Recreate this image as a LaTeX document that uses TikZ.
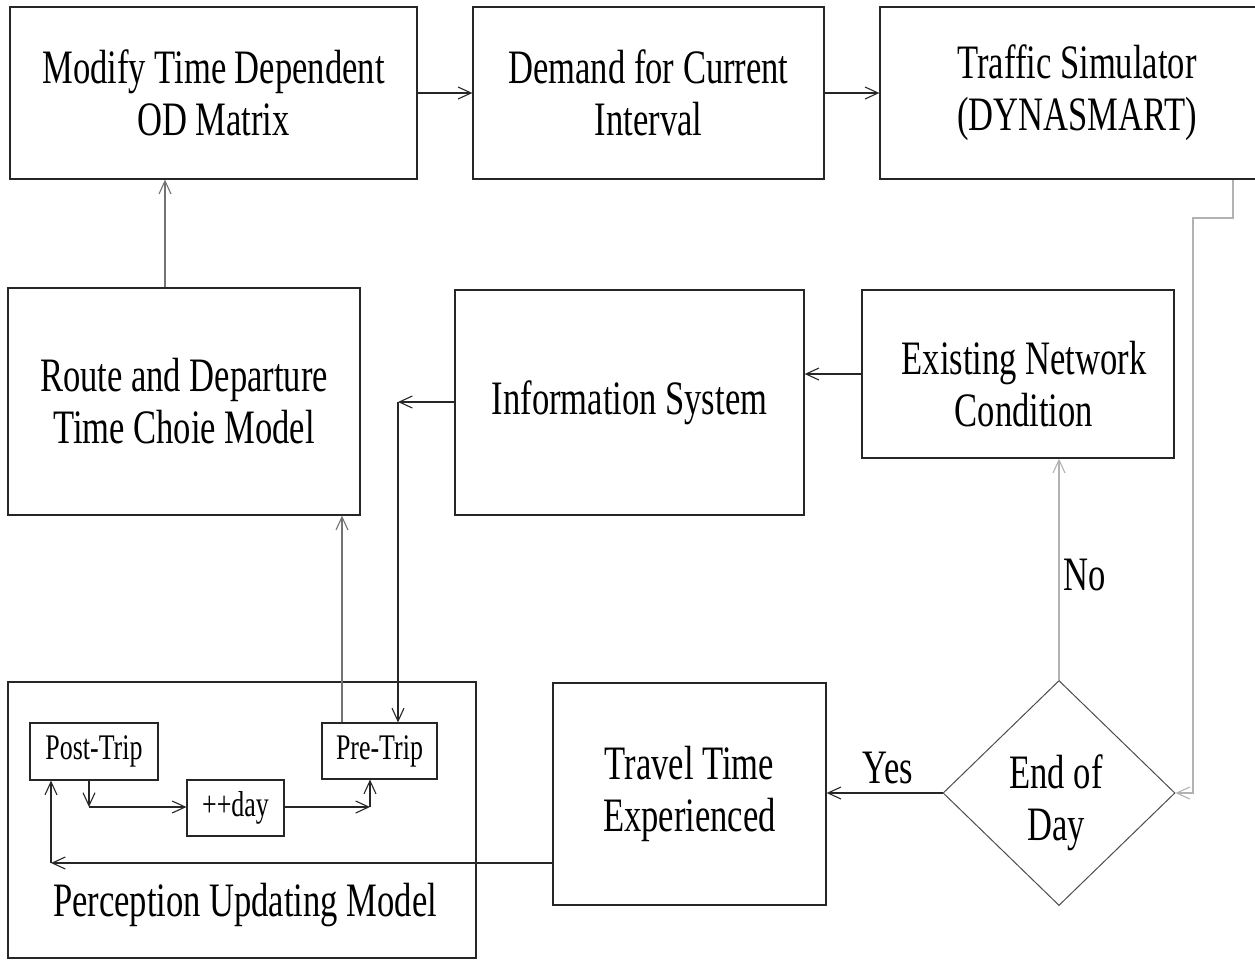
\documentclass[tikz,border=0pt]{standalone}
\usepackage{fontspec}
\setmainfont{Liberation Serif}[FakeStretch=0.72]
\usetikzlibrary{arrows.meta,shapes.geometric}
\tikzset{
  box/.style={draw=black!85, line width=1.3pt, inner sep=0pt, align=center,
              font=\fontsize{48}{52}\selectfont},
  smallbox/.style={draw=black!85, line width=1.1pt, inner sep=0pt, align=center,
              font=\fontsize{36}{40}\selectfont},
  txt/.style={inner sep=0pt, align=center, font=\fontsize{48}{52}\selectfont},
  flow/.style={draw=black!85, line width=1.1pt,
              -{Straight Barb[length=13pt,width=12pt]}},
  faint/.style={flow, draw=black!30},
}
\begin{document}
\begin{tikzpicture}[x=1pt,y=-1pt]
\useasboundingbox (0,0) rectangle (1255,961);
\clip (0,0) rectangle (1255,961);

% top row
\node[box, minimum width=407pt, minimum height=172pt] (modify) at (213.5,93)
  {Modify Time Dependent\\OD Matrix};
\node[box, minimum width=351pt, minimum height=172pt] (demand) at (648.5,93)
  {Demand for Current\\Interval};
\node[box, minimum width=394pt, minimum height=172pt] (traffic) at (1077,93)
  {Traffic Simulator\\(DYNASMART)};

% middle row
\node[box, minimum width=352pt, minimum height=227pt] (route) at (184,401.5)
  {Route and Departure\\Time Choie Model};
\node[box, minimum width=349pt, minimum height=225pt] (info) at (629.5,402.5)
  {Information System};
\node[box, minimum width=312pt, minimum height=168pt] (existing) at (1018,374) {};
\node[txt] (existinglbl) at (1024,384) {Existing Network\\Condition};

% bottom row
\node[box, minimum width=468pt, minimum height=276pt] (percep) at (242,820) {};
\node[txt] (perceplbl) at (245,905) {Perception Updating Model};
\node[smallbox, minimum width=128pt, minimum height=57pt] (posttrip) at (94,751.5) {Post-Trip};
\node[smallbox, minimum width=97pt, minimum height=56pt] (plusday) at (235.5,808) {++day};
\node[smallbox, minimum width=115pt, minimum height=56pt] (pretrip) at (379.5,751) {Pre-Trip};
\node[box, minimum width=273pt, minimum height=222pt] (travel) at (689.5,794)
  {Travel Time\\Experienced};
\node[box, draw=black!70, line width=1pt, shape=diamond, minimum width=232pt,
      minimum height=225pt] (endday) at (1059,793) {};
\node[txt] (enddaylbl) at (1056,803) {End of\\Day};

\node[txt] (yes) at (888,768) {Yes};
\node[txt] (no) at (1085,575) {No};

% bend points of the connectors
\coordinate (colA) at (165,0);
\coordinate (colB) at (342,0);
\coordinate (infoBend) at (398,402);
\coordinate (postBend) at (89,807);
\coordinate (dayBend) at (370,807);
\coordinate (travBend) at (51,863);
\coordinate (simBendA) at (1233,218);
\coordinate (simBendB) at (1193,218);

% top row chain
\draw[flow] (modify.east) -- (demand.west);
\draw[flow] (demand.east) -- (traffic.west);
\draw[faint, draw=black!55] (route.north -| colA) -- (modify.south -| colA);

% information flow
\draw[flow] (existing.west) -- (existing.west -| info.east);
\draw[flow] (info.west |- infoBend) -- (infoBend);
\draw[flow] (infoBend) -- (infoBend |- pretrip.north);
\draw[faint, draw=black!55] (pretrip.north -| colB) -- (route.south -| colB);

% day loop
\draw[faint] (traffic.south -| simBendA) -- (simBendA) -- (simBendB)
  -- (simBendB |- endday.east) -- (endday.east);
\draw[faint] (endday.north) -- (endday.north |- existing.south);
\draw[flow] (endday.west) -- (endday.west -| travel.east);

% perception updating
\draw[flow] (travel.west |- travBend) -- (travBend);
\draw[flow] (travBend) -- (travBend |- posttrip.south);
\draw[flow] (posttrip.south -| postBend) -- (postBend);
\draw[flow] (postBend) -- (postBend -| plusday.west);
\draw[flow] (plusday.east |- dayBend) -- (dayBend);
\draw[flow] (dayBend) -- (dayBend |- pretrip.south);
\end{tikzpicture}
\end{document}
